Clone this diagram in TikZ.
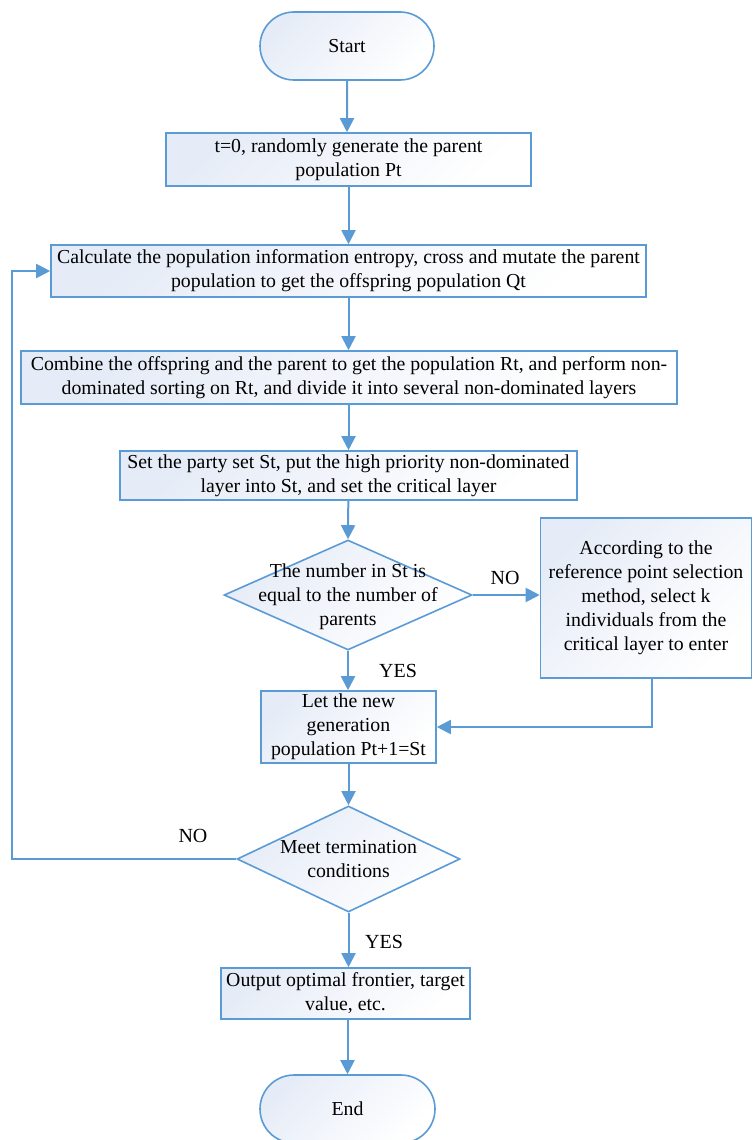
\documentclass[tikz,border=0pt]{standalone}
\usepackage{fontspec}
\setmainfont{Liberation Serif}
\usetikzlibrary{shapes.geometric,shapes.misc,arrows.meta,positioning}
\definecolor{edgec}{HTML}{5B9BD5}
\definecolor{fillc}{HTML}{E6ECF7}
\tikzset{
  base/.style={draw=edgec, line width=1.6pt, top color=fillc, bottom color=white, shading angle=45,
    font=\fontsize{19.8}{24}\selectfont, align=center, inner sep=0pt},
  term/.style={base, rounded rectangle, minimum width=174pt, minimum height=68pt},
  procbox/.style={base, rectangle},
  decide/.style={base, diamond, aspect=2.25},
  dtext/.style={font=\fontsize{19.8}{24}\selectfont, align=center, inner sep=0pt},
  conn/.style={draw=edgec, line width=2pt, -{Triangle[length=14pt,width=14pt]}},
  lbl/.style={font=\fontsize{20}{24}\selectfont, inner sep=0pt}
}
\begin{document}
\begin{tikzpicture}[x=1pt,y=-1pt]
\useasboundingbox (0,0) rectangle (752,1140);
\node[term] (start) at (347,46) {Start};
\node[procbox, minimum width=365pt, minimum height=53pt] (b1) at (348.5,159.5) {t=0, randomly generate the parent\\population Pt};
\node[procbox, minimum width=595pt, minimum height=52pt] (b2) at (348.5,271) {Calculate the population information entropy, cross and mutate the parent\\population to get the offspring population Qt};
\node[procbox, minimum width=656pt, minimum height=53pt] (b3) at (349,377.5) {Combine the offspring and the parent to get the population Rt, and perform non-\\dominated sorting on Rt, and divide it into several non-dominated layers};
\node[procbox, minimum width=457pt, minimum height=49pt] (b4) at (348.5,475.5) {Set the party set St, put the high priority non-dominated\\layer into St, and set the critical layer};
\node[decide, minimum width=248pt, minimum height=110pt] (d1) at (348,595) {};
\node[dtext] (d1t) at (348,597) {The number in St is\\equal to the number of\\parents};
\node[procbox, minimum width=211pt, minimum height=160pt] (br) at (646,598) {According to the\\reference point selection\\method, select k\\individuals from the\\critical layer to enter};
\node[procbox, minimum width=175pt, minimum height=72pt] (b5) at (348.5,727) {Let the new\\generation\\population Pt+1=St};
\node[decide, minimum width=223pt, minimum height=106pt] (d2) at (348.5,859) {};
\node[dtext] (d2t) at (348.5,859) {Meet termination\\conditions};
\node[procbox, minimum width=249pt, minimum height=51pt] (b6) at (345.5,993.5) {Output optimal frontier, target\\value, etc.};
\node[term, minimum width=175pt] (end) at (347.5,1109) {End};

\draw[conn] (start) -- (start |- b1.north);
\draw[conn] (b1) -- (b1 |- b2.north);
\draw[conn] (b2) -- (b2 |- b3.north);
\draw[conn] (b3.south -| b4) -- (b4.north);
\draw[conn] (b4) -- (d1.north);
\draw[conn] (d1.east) -- (br.west |- d1.east);
\draw[conn] (d1.south) -- (d1.south |- b5.north);
\coordinate (rc) at (652,727);
\draw[conn] (br.south -| rc) -- (rc) -- (b5.east);
\draw[conn] (b5) -- (d2.north);
\coordinate (lb) at (12,859);
\coordinate (lt) at (12,271);
\draw[conn] (d2.west) -- (lb) -- (lt) -- (b2.west);
\draw[conn] (d2.south) -- (d2.south |- b6.north);
\draw[conn] (b6.south -| end) -- (end.north);

\node[lbl] (no1) at (505,578) {NO};
\node[lbl] (yes1) at (398,671) {YES};
\node[lbl] (no2) at (193,836) {NO};
\node[lbl] (yes2) at (384,942) {YES};
\end{tikzpicture}
\end{document}
